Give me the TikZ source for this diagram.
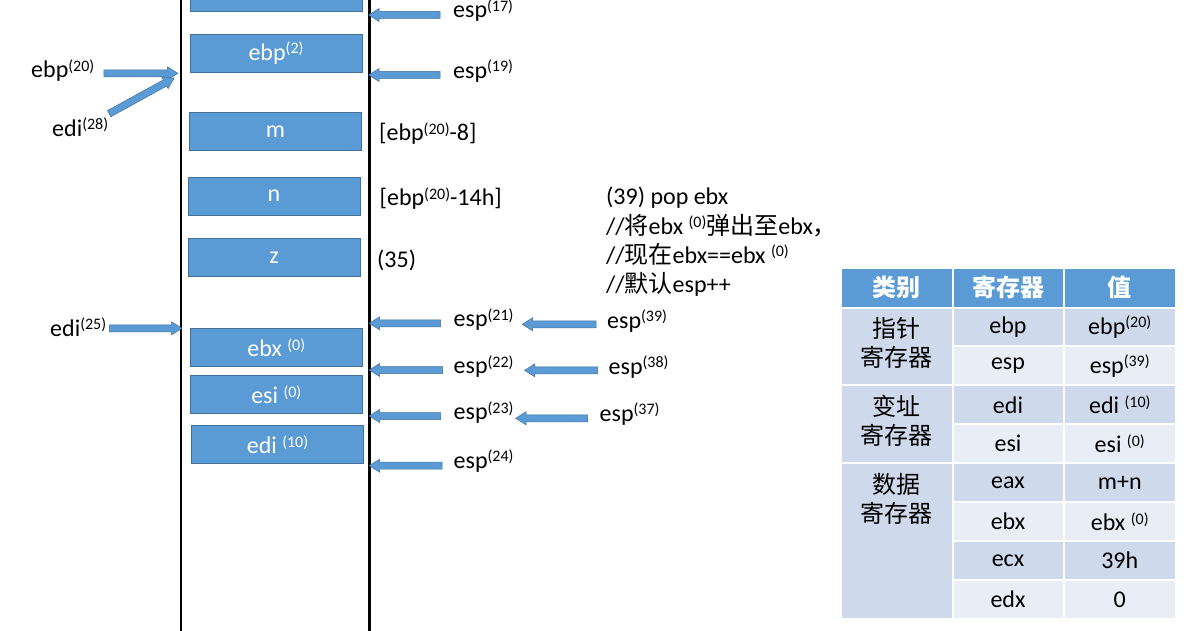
\documentclass[tikz,border=0pt]{standalone}
\usepackage{fontspec}
\setmainfont{Carlito}
\newfontfamily\cjk{Noto Sans CJK SC}
\usetikzlibrary{shapes.arrows,calc}

\definecolor{boxblue}{HTML}{5B9BD5}
\definecolor{boxedge}{HTML}{41719C}
\definecolor{celldark}{HTML}{CFD9EC}
\definecolor{celllight}{HTML}{E9EEF6}

% superscript step number and chinese text
\newcommand{\spx}[1]{\raisebox{6.5pt}{\fontsize{16}{16}\selectfont(#1)}}
\newcommand{\zh}[1]{{\cjk #1}}
% block arrow between two points
\newcommand{\barrow}[2]{%
  \path let \p1=($(#2)-(#1)$), \n1={veclen(\x1,\y1)} in
    (#1) -- (#2) node[blockarr, midway, sloped, allow upside down, minimum height=\n1] {};}

\tikzset{
  stackline/.style={line width=2.7pt},
  slot/.style={draw=boxedge, fill=boxblue, line width=0.8pt, minimum width=172pt,
    minimum height=38pt, inner sep=0pt, text=white},
  blockarr/.style={single arrow, draw=boxedge, fill=boxblue, line width=0.5pt,
    inner sep=0pt, text height=6.5pt, text depth=0pt, single arrow head extend=3pt,
    single arrow tip angle=64},
  lbl/.style={inner sep=0pt, anchor=base west},
  cell/.style={draw=white, line width=2pt, inner sep=0pt, align=center,
    minimum height=38.94pt},
  w1/.style={minimum width=111.5pt},
  w2/.style={minimum width=111pt},
  w3/.style={minimum width=112.5pt},
  zhcell/.style={font=\fontsize{24}{29}\selectfont\cjk},
  grouptext/.style={zhcell, align=center, inner sep=0pt, anchor=north},
  head/.style={cell, fill=boxblue, text=white, minimum height=39.5pt,
    font=\fontsize{24}{29}\selectfont\cjk\bfseries},
}

\begin{document}
\begin{tikzpicture}[x=1pt, y=-1pt, font=\fontsize{24}{29}\selectfont]
  \path[use as bounding box, clip] (0,0) rectangle (1186,631);

  % stack walls
  \draw[stackline] (181,-5) -- (181,640);
  \draw[stackline] (369.5,-5) -- (369.5,640);

  % stack slots
  \node[slot] (stop) at (276,-7.5) {};
  \node[slot] (sebp) at (276,53.3) {ebp\spx{2}};
  \node[slot] (sm) at (275.5,131.3) {m};
  \node[slot] (sn) at (274,196) {n};
  \node[slot] (sz) at (274,257.5) {z};
  \node[slot] (sebx) at (276.3,347.5) {ebx\ \spx{0}};
  \node[slot] (sesi) at (276.3,394.5) {esi\ \spx{0}};
  \node[slot] (sedi) at (277.5,444.5) {edi\ \spx{10}};

  % labels beside the stack
  \node[lbl] (ebpl) at (31,78) {ebp\spx{20}};
  \node[lbl] (edil) at (52,136.5) {edi\spx{28}};
  \node[lbl] (edim) at (50,336) {edi\spx{25}};
  \node[lbl] (off8) at (379,141) {[ebp\spx{20}-8]};
  \node[lbl] (off14) at (379.5,206) {[ebp\spx{20}-14h]};
  \node[lbl] (n35) at (377,267) {(35)};

  % esp labels
  \node[lbl] (e17) at (453,18) {esp\spx{17}};
  \node[lbl] (e19) at (453,78.5) {esp\spx{19}};
  \node[lbl] (e21) at (453.5,326.5) {esp\spx{21}};
  \node[lbl] (e22) at (453.5,373.5) {esp\spx{22}};
  \node[lbl] (e23) at (453.5,419.5) {esp\spx{23}};
  \node[lbl] (e24) at (453.5,468) {esp\spx{24}};
  \node[lbl] (e39) at (607,328) {esp\spx{39}};
  \node[lbl] (e38) at (608.5,374) {esp\spx{38}};
  \node[lbl] (e37) at (599.5,421) {esp\spx{37}};

  % arrow ends
  \coordinate (a17) at (443,15);     \coordinate (r17) at (371.5,15);
  \coordinate (a19) at (443,75);     \coordinate (r19) at (371.5,75);
  \coordinate (a21) at (443.5,323.3); \coordinate (r21) at (372,323.3);
  \coordinate (a22) at (445.5,370);  \coordinate (r22) at (372,370);
  \coordinate (a23) at (443.5,416);  \coordinate (r23) at (372,416);
  \coordinate (a24) at (445,465.7);  \coordinate (r24) at (372,465.7);
  \coordinate (a39) at (599,324.3);  \coordinate (r39) at (525,324.3);
  \coordinate (a38) at (600.4,370.3); \coordinate (r38) at (527.3,370.3);
  \coordinate (a37) at (590.5,418.3); \coordinate (r37) at (518.4,418.3);
  \coordinate (aebp) at (101,73.3);  \coordinate (lebp) at (175,73.3);
  \coordinate (adi) at (106.7,115);  \coordinate (ldi) at (171.7,79.3);
  \coordinate (adm) at (106.6,328.3); \coordinate (ldm) at (179.2,328.3);

  % arrows
  \barrow{a17}{r17}
  \barrow{a19}{r19}
  \barrow{a21}{r21}
  \barrow{a22}{r22}
  \barrow{a23}{r23}
  \barrow{a24}{r24}
  \barrow{a39}{r39}
  \barrow{a38}{r38}
  \barrow{a37}{r37}
  \barrow{aebp}{lebp}
  \barrow{adi}{ldi}
  \barrow{adm}{ldm}

  % note on the pop
  \node[lbl] (note1) at (606,205) {(39) pop ebx};
  \node[lbl] (note2) at (606,234) {//\zh{将}ebx\ \spx{0}\zh{弹出至}ebx\zh{，}};
  \node[lbl] (note3) at (606,263) {//\zh{现在}ebx==ebx\ \spx{0}};
  \node[lbl] (note4) at (606,292) {//\zh{默认}esp++};

  % register table: header
  \node[head, w1] (hcat) at (896.75,287.75) {类别};
  \node[head, w2] (hreg) at (1008,287.75) {寄存器};
  \node[head, w3] (hval) at (1119.75,287.75) {值};

  % register table: groups
  \node[cell, w1, fill=celldark, minimum height=77.88pt] (gptr) at (896.75,346.44) {};
  \node[cell, w1, fill=celldark, minimum height=77.88pt] (gadr) at (896.75,424.32) {};
  \node[cell, w1, fill=celldark, minimum height=155.76pt] (gdat) at (896.75,541.14) {};
  \node[grouptext] (tptr) at ([yshift=-10.5pt]gptr.north) {指针\\寄存器};
  \node[grouptext] (tadr) at ([yshift=-10.5pt]gadr.north) {变址\\寄存器};
  \node[grouptext] (tdat) at ([yshift=-10.5pt]gdat.north) {数据\\寄存器};

  % register table: rows
  \node[cell, w2, fill=celldark] (rebp) at (1008,326.97) {ebp};
  \node[cell, w3, fill=celldark] (vebp) at (1119.75,326.97) {ebp\spx{20}};
  \node[cell, w2, fill=celllight] (resp) at (1008,365.91) {esp};
  \node[cell, w3, fill=celllight] (vesp) at (1119.75,365.91) {esp\spx{39}};
  \node[cell, w2, fill=celldark] (redi) at (1008,404.85) {edi};
  \node[cell, w3, fill=celldark] (vedi) at (1119.75,404.85) {edi\ \spx{10}};
  \node[cell, w2, fill=celllight] (resi) at (1008,443.79) {esi};
  \node[cell, w3, fill=celllight] (vesi) at (1119.75,443.79) {esi\ \spx{0}};
  \node[cell, w2, fill=celldark] (reax) at (1008,482.73) {eax};
  \node[cell, w3, fill=celldark] (veax) at (1119.75,482.73) {m+n};
  \node[cell, w2, fill=celllight] (rebx) at (1008,521.67) {ebx};
  \node[cell, w3, fill=celllight] (vebx) at (1119.75,521.67) {ebx\ \spx{0}};
  \node[cell, w2, fill=celldark] (recx) at (1008,560.61) {ecx};
  \node[cell, w3, fill=celldark] (vecx) at (1119.75,560.61) {39h};
  \node[cell, w2, fill=celllight] (redx) at (1008,599.55) {edx};
  \node[cell, w3, fill=celllight] (vedx) at (1119.75,599.55) {0};
\end{tikzpicture}
\end{document}
